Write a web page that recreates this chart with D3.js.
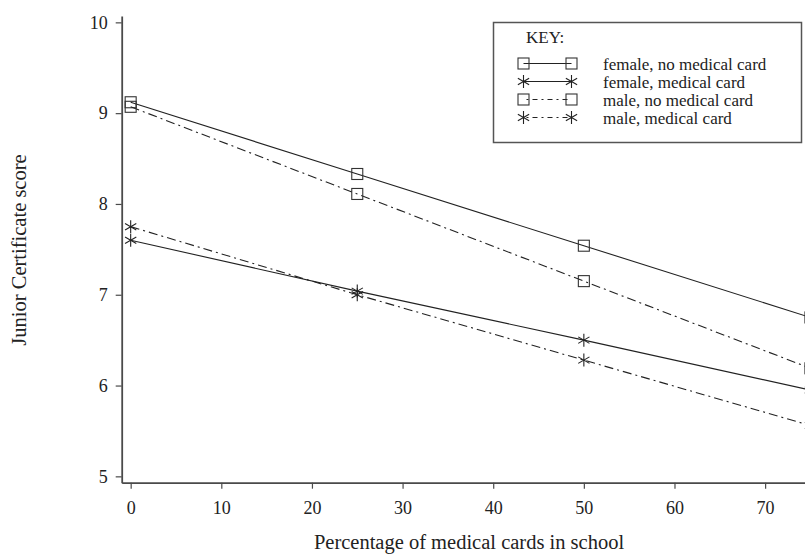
<!DOCTYPE html>
<html><head><meta charset="utf-8">
<script src="https://cdn.jsdelivr.net/npm/d3@7"></script>
<style>
html,body{margin:0;padding:0;background:#fff;}
text{font-family:"Liberation Serif","DejaVu Serif",serif;fill:#222;}
</style></head>
<body><svg id="chart" width="805" height="554"></svg>
<script>
// Data
const xValues = [0, 25, 50, 75];
const femaleNoCard = [9.12, 8.33, 7.54, 6.75];
const femaleCard   = [7.60, 7.04, 6.50, 5.95];
const maleNoCard   = [9.07, 8.11, 7.15, 6.19];
const maleCard     = [7.75, 7.00, 6.28, 5.56];
const seriesNames = ["female, no medical card","female, medical card","male, no medical card","male, medical card"];
const xTicks = [0,10,20,30,40,50,60,70];
const yTicks = [5,6,7,8,9,10];

const series = [
  {name: seriesNames[0], values: femaleNoCard, marker: "square", dash: null},
  {name: seriesNames[1], values: femaleCard, marker: "star", dash: null},
  {name: seriesNames[2], values: maleNoCard, marker: "square", dash: "9,4,2,4"},
  {name: seriesNames[3], values: maleCard, marker: "star", dash: "9,4,2,4"}
];

const svg = d3.select("#chart");
const x = d3.scaleLinear().domain([-0.99, 74.4]).range([121.7, 805]);
const y = d3.scaleLinear().domain([4.93, 10.07]).range([482.7, 16]);
const axisColor = "#4a4a4a";

// axes
const gx = svg.append("g").attr("transform", `translate(0,${y.range()[0]})`)
  .call(d3.axisBottom(x).tickValues(xTicks).tickFormat(d3.format("d")).tickSize(6).tickSizeOuter(0).tickPadding(13));
const gy = svg.append("g").attr("transform", `translate(${x.range()[0]},0)`)
  .call(d3.axisLeft(y).tickValues(yTicks).tickFormat(d3.format("d")).tickSize(6).tickSizeOuter(0).tickPadding(8));
[gx, gy].forEach(g => {
  g.select(".domain").attr("stroke", axisColor).attr("stroke-width", 1.8);
  g.selectAll(".tick line").attr("stroke", axisColor).attr("stroke-width", 1.2);
  g.selectAll(".tick text").attr("font-family", "Liberation Serif").attr("font-size", 18).attr("fill", "#222");
});

// axis titles
svg.append("text").attr("x", 469).attr("y", 549).attr("text-anchor", "middle")
  .attr("font-size", 20.5).text("Percentage of medical cards in school");
svg.append("text").attr("transform", "translate(26,250) rotate(-90)").attr("text-anchor", "middle")
  .attr("font-size", 20.5).text("Junior Certificate score");

function drawMarker(g, type, cx, cy) {
  if (type === "square") {
    g.append("rect").attr("x", cx - 5.5).attr("y", cy - 5.5).attr("width", 11).attr("height", 11)
      .attr("fill", "none").attr("stroke", "#333").attr("stroke-width", 1.1);
  } else {
    const r = 6.5;
    [90, 30, -30].forEach(a => {
      const rad = a * Math.PI / 180;
      g.append("line").attr("x1", cx - r*Math.cos(rad)).attr("y1", cy - r*Math.sin(rad))
        .attr("x2", cx + r*Math.cos(rad)).attr("y2", cy + r*Math.sin(rad))
        .attr("stroke", "#222").attr("stroke-width", 1.1);
    });
  }
}

const line = d3.line().x((d, i) => x(xValues[i])).y(d => y(d));
const plot = svg.append("g");
series.forEach(s => {
  plot.append("path").datum(s.values).attr("d", line)
    .attr("fill", "none").attr("stroke", "#222").attr("stroke-width", 1.1)
    .attr("stroke-dasharray", s.dash);
  s.values.forEach((v, i) => drawMarker(plot, s.marker, x(xValues[i]), y(v)));
});

// legend
const lg = svg.append("g");
lg.append("rect").attr("x", 493.5).attr("y", 22.5).attr("width", 308).attr("height", 120)
  .attr("fill", "#fff").attr("stroke", "#555").attr("stroke-width", 1.5);
lg.append("text").attr("x", 526).attr("y", 43).attr("font-size", 17).text("KEY:");
series.forEach((s, i) => {
  const cy = 63.5 + i * 18;
  lg.append("line").attr("x1", 523.5).attr("x2", 571.5).attr("y1", cy).attr("y2", cy)
    .attr("stroke", "#222").attr("stroke-width", 1.1).attr("stroke-dasharray", s.dash ? "5,4,2,4" : null)
    .attr("stroke-dashoffset", s.dash ? -9 : 0);
  drawMarker(lg, s.marker, 523.5, cy);
  drawMarker(lg, s.marker, 571.5, cy);
  lg.append("text").attr("x", 603).attr("y", cy + 6).attr("font-size", 17).text(s.name);
});
</script></body></html>
